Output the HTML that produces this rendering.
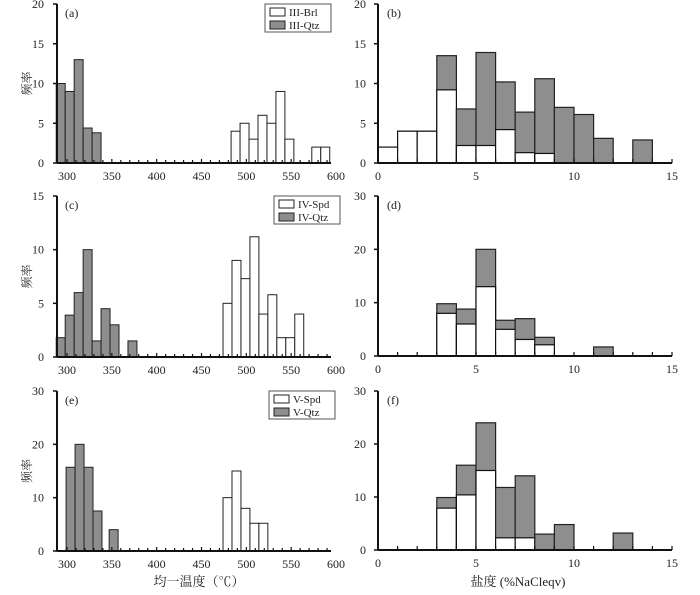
<!DOCTYPE html>
<html><head><meta charset="utf-8"><style>
body{margin:0;background:#fff;}
svg text{font-family:"Liberation Serif","Noto Serif CJK SC",serif;fill:#222;}
</style></head><body>
<svg id="c" width="700" height="590" xmlns="http://www.w3.org/2000/svg"></svg>
<script>
// ---- Temperature panels (a,c,e) data ----
const aQtzStart=[288,298,308,318,328];
const aQtzVal=[10,9,13,4.4,3.8];
const aBrlStart=[483,493,503,513,523,533,543,573,583];
const aBrlVal=[4,5,3,6,5,9,3,2,2];
const cQtzStart=[288,298,308,318,328,338,348,368];
const cQtzVal=[1.8,3.9,6,10,1.5,4.5,3,1.5];
const cSpdStart=[474,484,494,504,514,524,534,544,554];
const cSpdVal=[5,9,7.3,11.2,4,5.8,1.8,1.8,4];
const eQtzStart=[299,309,319,329,347];
const eQtzVal=[15.7,20,15.7,7.5,4];
const eSpdStart=[474,484,494,504,514];
const eSpdVal=[10,15,8,5.2,5.2];
const tempTicks=[300,350,400,450,500,550,600];
// ---- Salinity panels (b,d,f) data: bins start, white (bottom) and total ----
const bBins=[0,1,2,3,4,5,6,7,8,9,10,11,13];
const bWhite=[2,4,4,9.2,2.2,2.2,4.2,1.3,1.2,0,0,0,0];
const bTotal=[2,4,4,13.5,6.8,13.9,10.2,6.4,10.6,7,6.1,3.1,2.9];
const dBins=[3,4,5,6,7,8,11];
const dWhite=[8,6,13,5,3.1,2.1,0];
const dTotal=[9.8,8.8,20,6.7,7,3.5,1.7];
const fBins=[3,4,5,6,7,8,9,12];
const fWhite=[7.9,10.4,15,2.3,2.3,0,0,0];
const fTotal=[9.9,16,24,11.8,14,3,4.8,3.2];
const salTicks=[0,5,10,15];

const NS="http://www.w3.org/2000/svg";
const svg=document.getElementById('c');
const GRAY="#8e8e8e";
function el(t,a,p){const e=document.createElementNS(NS,t);for(const k in a)e.setAttribute(k,a[k]);(p||svg).appendChild(e);return e;}
function txt(x,y,s,anchor,size,p){const t=el('text',{x:x,y:y,'text-anchor':anchor||'middle','font-size':size||12},p);t.textContent=s;return t;}

function tempPanel(id,top,bottom,ymax,ystep,qS,qV,wS,wV,names){
  const g=el('g',{});
  
  
  const X=v=>67+(v-300)*0.8967, Y=v=>bottom-(v/ymax)*(bottom-top);
  const binW=10;
  qS.forEach((s,i)=>{const r=el('rect',{x:X(s),y:Y(qV[i]),width:X(s+binW)-X(s),height:bottom-Y(qV[i]),fill:GRAY,stroke:'#222','stroke-width':1},g);
    });
  wS.forEach((s,i)=>{const r=el('rect',{x:X(s),y:Y(wV[i]),width:X(s+binW)-X(s),height:bottom-Y(wV[i]),fill:'#fff',stroke:'#222','stroke-width':1},g);
    });
  el('line',{x1:57,y1:top,x2:57,y2:bottom,stroke:'#111','stroke-width':2},g);
  el('line',{x1:57,y1:bottom,x2:331,y2:bottom,stroke:'#111','stroke-width':2},g);
  for(let v=0;v<=ymax;v+=ystep){el('line',{x1:53,y1:Y(v),x2:57,y2:Y(v),stroke:'#111','stroke-width':1.5},g);txt(44,Y(v)+4,String(v),'end',12,g);}
  for(let v=300;v<=590;v+=10){el('line',{x1:X(v),y1:bottom,x2:X(v),y2:bottom-(v%50?3:4),stroke:'#111','stroke-width':1.2},g);}
  tempTicks.forEach(v=>txt(X(v),bottom+17,String(v),'middle',12,g));
  txt(65,top+13,'('+id+')','start',12,g);
  const yt=txt(0,0,'频率','middle',12,g);yt.setAttribute('transform','translate(31,'+((top+bottom)/2)+') rotate(-90)');
  
  const lx=names[2],lg=el('g',{},g);
  
  el('rect',{x:lx,y:top,width:66,height:28,fill:'#fff',stroke:'#555','stroke-width':1},lg);
  el('rect',{x:lx+5,y:top+4,width:15,height:8,fill:'#fff',stroke:'#222'},lg);
  el('rect',{x:lx+5,y:top+17,width:15,height:8,fill:GRAY,stroke:'#222'},lg);
  txt(lx+24,top+12,names[0],'start',11,lg);
  txt(lx+24,top+25,names[1],'start',11,lg);
}
function salPanel(id,top,bottom,ymax,ystep,bins,white,total){
  const g=el('g',{});
  
  
  const X=v=>378+v*19.6, Y=v=>bottom-(v/ymax)*(bottom-top);
  bins.forEach((s,i)=>{
    const r=el('rect',{x:X(s),y:Y(total[i]),width:19.6,height:bottom-Y(total[i]),fill:GRAY,stroke:'#222','stroke-width':1.2},g);
    
    if(white[i]>0){const w=el('rect',{x:X(s),y:Y(white[i]),width:19.6,height:bottom-Y(white[i]),fill:'#fff',stroke:'#111','stroke-width':1.2},g);
      }
  });
  el('line',{x1:378,y1:top,x2:378,y2:bottom,stroke:'#111','stroke-width':2},g);
  el('line',{x1:378,y1:bottom,x2:672,y2:bottom,stroke:'#111','stroke-width':2},g);
  for(let v=0;v<=ymax;v+=ystep){el('line',{x1:374,y1:Y(v),x2:378,y2:Y(v),stroke:'#111','stroke-width':1.5},g);txt(366,Y(v)+4,String(v),'end',12,g);}
  for(let v=1;v<=15;v++){el('line',{x1:X(v),y1:bottom,x2:X(v),y2:bottom-4,stroke:'#111','stroke-width':1.2},g);}
  salTicks.forEach(v=>txt(X(v),bottom+17,String(v),'middle',12,g));
  txt(387,top+13,'('+id+')','start',12,g);
}
tempPanel('a',4,163,20,5,aQtzStart,aQtzVal,aBrlStart,aBrlVal,['III-Brl','III-Qtz',265]);
tempPanel('c',196,357,15,5,cQtzStart,cQtzVal,cSpdStart,cSpdVal,['IV-Spd','IV-Qtz',274]);
tempPanel('e',391,551,30,10,eQtzStart,eQtzVal,eSpdStart,eSpdVal,['V-Spd','V-Qtz',269]);
salPanel('b',4,163,20,5,bBins,bWhite,bTotal);
salPanel('d',196,356,30,10,dBins,dWhite,dTotal);
salPanel('f',391,550,30,10,fBins,fWhite,fTotal);
const xt1=txt(199,586,'均一温度（℃）','middle',13);

const xt2=txt(518,586,'盐度 (%NaCleqv)','middle',13);

</script>
</body></html>
